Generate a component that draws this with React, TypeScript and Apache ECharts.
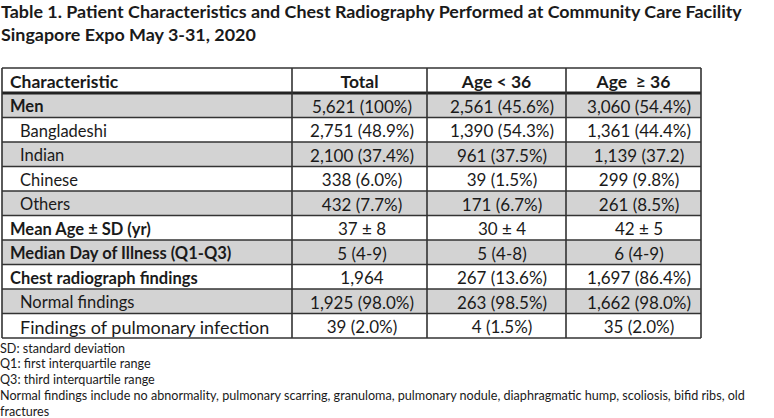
import React, { useEffect, useRef } from "react";
import * as echarts from "echarts";

const titleLines = [
  "Table 1. Patient Characteristics and Chest Radiography Performed at Community Care Facility",
  "Singapore Expo May 3-31, 2020",
];
const headers = ["Characteristic", "Total", "Age < 36", "Age  \u2265 36"];
const rowLabels = [
  "Men",
  "Bangladeshi",
  "Indian",
  "Chinese",
  "Others",
  "Mean Age \u00b1 SD (yr)",
  "Median Day of Illness (Q1-Q3)",
  "Chest radiograph findings",
  "Normal findings",
  "Findings of pulmonary infection",
];
const totalCol = ["5,621 (100%)", "2,751 (48.9%)", "2,100 (37.4%)", "338 (6.0%)", "432 (7.7%)", "37 \u00b1 8", "5 (4-9)", "1,964", "1,925 (98.0%)", "39 (2.0%)"];
const youngCol = ["2,561 (45.6%)", "1,390 (54.3%)", "961 (37.5%)", "39 (1.5%)", "171 (6.7%)", "30 \u00b1 4", "5 (4-8)", "267 (13.6%)", "263 (98.5%)", "4 (1.5%)"];
const oldCol = ["3,060 (54.4%)", "1,361 (44.4%)", "1,139 (37.2)", "299 (9.8%)", "261 (8.5%)", "42 \u00b1 5", "6 (4-9)", "1,697 (86.4%)", "1,662 (98.0%)", "35 (2.0%)"];
const boldRows = [true, false, false, false, false, true, true, true, false, false];
const shadedRows = [true, false, true, false, true, false, true, false, true, false];
const footnotes = [
  "SD: standard deviation",
  "Q1: first interquartile range",
  "Q3: third interquartile range",
  "Normal findings include no abnormality, pulmonary scarring, granuloma, pulmonary nodule, diaphragmatic hump, scoliosis, bifid ribs, old",
  "fractures",
];

const FONT = "Lato, 'Open Sans', sans-serif";

export default function App() {
  const ref = useRef<HTMLDivElement>(null);
  useEffect(() => {
    if (!ref.current) return;
    const chart = echarts.init(ref.current, null, { renderer: "svg" });
    const colX = [2, 292, 427, 566, 701];
    const dataCx = [362, 502, 639];
    const top = 68;
    const headH = 25;
    const rowH = 24.5;
    const els: any[] = [];
    titleLines.forEach((t, i) => {
      els.push({
        type: "text",
        x: 1,
        y: 11 + i * 23,
        style: { text: t, font: `bold 17.9px ${FONT}`, fill: "#1a1a1a", textVerticalAlign: "middle" },
      });
    });
    rowLabels.forEach((_, i) => {
      const y = top + headH + i * rowH;
      els.push({
        type: "rect",
        shape: { x: colX[0], y, width: colX[4] - colX[0], height: rowH },
        style: { fill: shadedRows[i] ? "#d3d3d3" : "#ffffff" },
      });
    });
    headers.forEach((h, j) => {
      const cx = j === 0 ? colX[0] + 8 : (colX[j] + colX[j + 1]) / 2;
      els.push({
        type: "text",
        x: cx,
        y: top + headH / 2 + 1,
        style: {
          text: h,
          font: `bold 17.5px ${FONT}`,
          fill: "#1a1a1a",
          textAlign: j === 0 ? "left" : "center",
          textVerticalAlign: "middle",
        },
      });
    });
    rowLabels.forEach((lab, i) => {
      const cy = top + headH + i * rowH + rowH / 2 + 1;
      const big = i === rowLabels.length - 1;
      els.push({
        type: "text",
        x: boldRows[i] ? colX[0] + 8 : colX[0] + 18,
        y: cy,
        style: {
          text: lab,
          font: `${boldRows[i] ? "bold " : ""}${big ? 18 : 16.5}px ${FONT}`,
          fill: "#1a1a1a",
          textVerticalAlign: "middle",
        },
      });
      [totalCol, youngCol, oldCol].forEach((col, j) => {
        els.push({
          type: "text",
          x: dataCx[j],
          y: cy,
          style: {
            text: col[i],
            font: `17px ${FONT}`,
            fill: "#1a1a1a",
            textAlign: "center",
            textVerticalAlign: "middle",
          },
        });
      });
    });
    const bottom = top + headH + rowLabels.length * rowH;
    const lineStyle = { stroke: "#333333", lineWidth: 1.6 };
    els.push({ type: "line", shape: { x1: colX[0], y1: top, x2: colX[4], y2: top }, style: lineStyle });
    els.push({ type: "line", shape: { x1: colX[0], y1: top + headH, x2: colX[4], y2: top + headH }, style: { stroke: "#222", lineWidth: 3 } });
    for (let i = 1; i <= rowLabels.length; i++) {
      const y = top + headH + i * rowH;
      els.push({ type: "line", shape: { x1: colX[0], y1: y, x2: colX[4], y2: y }, style: lineStyle });
    }
    colX.forEach((x) => {
      els.push({ type: "line", shape: { x1: x, y1: top, x2: x, y2: bottom }, style: lineStyle });
    });
    footnotes.forEach((f, i) => {
      els.push({
        type: "text",
        x: 0,
        y: 348 + i * 15.8,
        style: { text: f, font: `12.6px ${FONT}`, fill: "#1a1a1a", textVerticalAlign: "middle" },
      });
    });
    chart.setOption({ animation: false, backgroundColor: "#ffffff", graphic: { elements: els } });
    return () => chart.dispose();
  }, []);
  return (
    <div
      ref={ref}
      style={{ position: "fixed", left: 0, top: 0, width: 774, height: 418 }}
    />
  );
}
